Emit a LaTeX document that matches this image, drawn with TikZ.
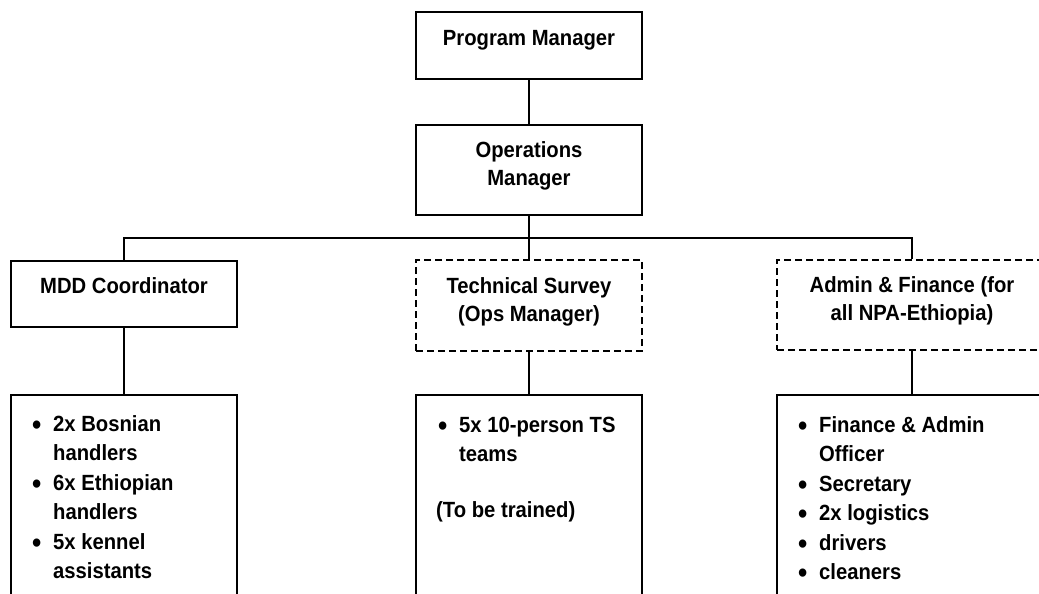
\documentclass[tikz,border=0pt]{standalone}
\usepackage{fontspec}
\setmainfont{Liberation Sans}[FakeStretch=0.92]
\tikzset{
  box/.style={draw, line width=1.3pt, rectangle, inner sep=0pt},
  dbox/.style={box, dash pattern=on 7pt off 4pt},
  conn/.style={line width=1.3pt},
  lbl/.style={anchor=base, inner sep=0pt, font=\fontsize{22}{28.5}\selectfont\bfseries},
  lst/.style={anchor=base west, inner sep=0pt, font=\fontsize{22}{29.5}\selectfont\bfseries},
}
\newcommand{\bitem}[1]{\par\noindent\hangindent=20pt\hangafter=1\makebox[20pt][l]{\hspace{-1pt}\raisebox{-3pt}{\scalebox{1.3}{\textbullet}}}#1}
\begin{document}
\begin{tikzpicture}[x=1pt,y=-1pt]
\clip (0,0) rectangle (1039,594);
% boxes
\node[box, minimum width=226pt, minimum height=67pt] (PM) at (529,45.5) {};
\node[box, minimum width=226pt, minimum height=90pt] (OM) at (529,170) {};
\node[box, minimum width=226pt, minimum height=66pt] (MDD) at (124,294) {};
\node[dbox, minimum width=226pt, minimum height=91pt] (TS) at (529,305.5) {};
\node[dbox, minimum width=270pt, minimum height=90pt] (AF) at (912,305) {};
\node[box, minimum width=226pt, minimum height=230pt] (MDDL) at (124,510) {};
\node[box, minimum width=226pt, minimum height=230pt] (TSL) at (529,510) {};
\node[box, minimum width=270pt, minimum height=230pt] (AFL) at (912,510) {};
% labels
\node[lbl] (tPM) at (529,46) {Program Manager};
\node[lbl] (tOM) at (529,157) {\parbox[t]{220pt}{\centering Operations\\Manager}};
\node[lbl] (tMDD) at (124,293) {MDD Coordinator};
\node[lbl] (tTS) at (529,293) {\parbox[t]{220pt}{\centering Technical Survey\\(Ops Manager)}};
\node[lbl] (tAF) at (912,292) {\parbox[t]{265pt}{\centering Admin \& Finance (for\\all NPA-Ethiopia)}};
% lists
\node[lst] (lMDD) at (33,431) {\parbox[t]{200pt}{\bitem{2x Bosnian\\handlers}\bitem{6x Ethiopian\\handlers}\bitem{5x kennel\\assistants}}};
\node[lst] (lTS) at (439,432) {\parbox[t]{200pt}{\bitem{5x 10-person TS\\teams}}};
\node[lst] (lTS2) at (436,517) {(To be trained)};
\node[lst] (lAF) at (799,432) {\parbox[t]{240pt}{\bitem{Finance \& Admin\\Officer}\bitem{Secretary}\bitem{2x logistics}\bitem{drivers}\bitem{cleaners}}};
% connectors
\coordinate (bus) at (529,238);
\draw[conn] (PM.south) -- (OM.north);
\draw[conn] (OM.south) -- (TS.north);
\draw[conn] (MDD.north) |- (bus) -| (AF.north);
\draw[conn] (MDD.south) -- (MDDL.north);
\draw[conn] (TS.south) -- (TSL.north);
\draw[conn] (AF.south) -- (AFL.north);
\end{tikzpicture}
\end{document}
